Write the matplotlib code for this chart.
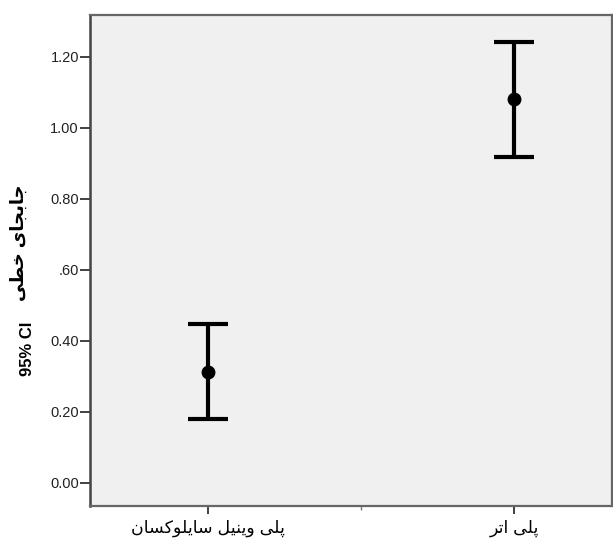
import matplotlib
matplotlib.use('Agg')
import matplotlib.pyplot as plt
import numpy as np

plt.rcParams['font.family'] = ['Liberation Sans', 'DejaVu Sans']

# data
groups = ['پلی وینیل سایلوکسان', 'پلی اتر']
means = [0.312, 1.081]
ci_low = [0.180, 0.919]
ci_high = [0.447, 1.241]
ytick_vals = [0.0, 0.2, 0.4, 0.6, 0.8, 1.0, 1.2]
ytick_labels = ['0.00', '0.20', '0.40', '.60', '0.80', '1.00', '1.20']
ylabel_latin = '95% CI'
ylabel_fa = 'جابجای خطی'

# matplotlib has no arabic shaping, so pick presentation forms by hand
# (iso, fin, ini, med) for dual-joining, (iso, fin) for right-joining
forms = {
    'پ': '\ufb56\ufb57\ufb58\ufb59',
    'ل': '\ufedd\ufede\ufedf\ufee0',
    'ی': '\ufbfc\ufbfd\ufbfe\ufbff',
    'ن': '\ufee5\ufee6\ufee7\ufee8',
    'س': '\ufeb1\ufeb2\ufeb3\ufeb4',
    'ک': '\ufb8e\ufb8f\ufb90\ufb91',
    'ت': '\ufe95\ufe96\ufe97\ufe98',
    'ج': '\ufe9d\ufe9e\ufe9f\ufea0',
    'ب': '\ufe8f\ufe90\ufe91\ufe92',
    'خ': '\ufea5\ufea6\ufea7\ufea8',
    'ط': '\ufec1\ufec2\ufec3\ufec4',
    'و': '\ufeed\ufeee',
    'ا': '\ufe8d\ufe8e',
    'ر': '\ufead\ufeae',
}


def shape(s):
    out = []
    for i, c in enumerate(s):
        if c not in forms:
            out.append(c)
            continue
        prev = s[i - 1] if i > 0 else ''
        nxt = s[i + 1] if i + 1 < len(s) else ''
        join_prev = prev in forms and len(forms[prev]) == 4
        join_next = len(forms[c]) == 4 and nxt in forms
        f = forms[c]
        if join_prev and join_next:
            out.append(f[3])
        elif join_prev:
            out.append(f[1])
        elif join_next:
            out.append(f[2])
        else:
            out.append(f[0])
    return ''.join(out)[::-1]


fig = plt.figure(figsize=(6.13, 5.45), dpi=100)
ax = fig.add_axes([90 / 613, 39 / 545, 522 / 613, 491 / 545])
ax.set_facecolor('#f0f0f0')

x = np.arange(len(groups))
m = np.array(means)
err = [m - np.array(ci_low), np.array(ci_high) - m]
ax.errorbar(x, m, yerr=err, fmt='o', color='black', ms=9, elinewidth=3,
            capsize=14.5, capthick=3)

ax.set_xlim(-0.386, 1.32)
ax.set_ylim(-0.065, 1.318)
ax.set_xticks(x)
ax.set_xticklabels([shape(g) for g in groups], fontsize=12.5)
ax.set_xticks([0.5], minor=True)
ax.set_yticks(ytick_vals)
ax.set_yticklabels(ytick_labels, fontsize=10.5, color='#222222')

ax.tick_params(axis='y', length=7, width=1.3, color='#333333', pad=1)
ax.tick_params(axis='x', which='major', length=6, width=1.3, color='#333333', pad=4)
ax.tick_params(axis='x', which='minor', length=3, width=1, color='#777777')

for side in ['top', 'bottom', 'right']:
    ax.spines[side].set_color('#666666')
    ax.spines[side].set_linewidth(1.6)
ax.spines['left'].set_color('#444444')
ax.spines['left'].set_linewidth(1.8)

# y title in two pieces: bold latin part and larger persian part
fig.text(27 / 613, 1 - 349 / 545, ylabel_latin, rotation=90, fontsize=12,
         fontweight='bold', ha='center', va='center')
fig.text(19 / 613, 1 - 243 / 545, shape(ylabel_fa), rotation=90, fontsize=13,
         fontweight='bold', ha='center', va='center')

fig.savefig('out.png', dpi=100)
